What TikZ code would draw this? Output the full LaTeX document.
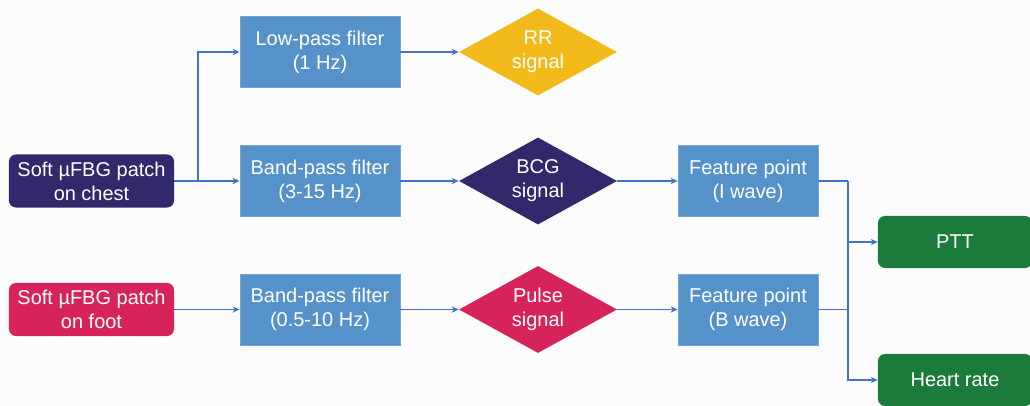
\documentclass[tikz,border=0pt]{standalone}
\usepackage{fontspec}
\setmainfont{Liberation Sans}
\usepackage{tikz}
\usepackage{xcolor}
\usetikzlibrary{positioning, arrows.meta, shapes.geometric}

\definecolor{patchpurple}{RGB}{50,40,108}
\definecolor{patchpink}{RGB}{214,36,90}
\definecolor{filterblue}{RGB}{85,146,202}
\definecolor{filteredge}{RGB}{120,166,212}
\definecolor{rryellow}{RGB}{242,186,26}
\definecolor{outgreen}{RGB}{27,123,58}
\definecolor{linkblue}{RGB}{68,114,196}
\definecolor{bgpaper}{RGB}{252,252,252}

\tikzset{
    txt/.style={text=white, align=center, font=\fontsize{14.2pt}{17pt}\selectfont, inner sep=0pt},
    patch/.style={txt, rectangle, rounded corners=5pt, minimum width=4.125cm, minimum height=1.325cm},
    filterbox/.style={txt, rectangle, fill=filterblue, draw=filteredge, line width=0.6pt, minimum width=4cm, minimum height=1.775cm},
    signal/.style={txt, diamond, aspect=1.8, minimum width=3.95cm, minimum height=2.175cm},
    result/.style={txt, rectangle, rounded corners=5pt, fill=outgreen, minimum width=3.85cm, minimum height=1.3cm},
    link/.style={draw=linkblue, line width=0.9pt},
    arr/.style={link, -{Stealth[length=5pt, width=4.5pt]}}
}

\begin{document}
\begin{tikzpicture}[x=0.025cm, y=-0.025cm]
    \fill[bgpaper] (0,0) rectangle (1030,406);
    \useasboundingbox (0,0) rectangle (1030,406);

    \node[patch, fill=patchpurple] (chest) at (91.5, 181) {Soft µFBG patch\\on chest};
    \node[patch, fill=patchpink] (foot) at (91.5, 309.5) {Soft µFBG patch\\on foot};

    \node[filterbox] (lp) at (320, 52) {Low-pass filter\\(1 Hz)};
    \node[filterbox] (bpc) at (320, 181) {Band-pass filter\\(3-15 Hz)};
    \node[filterbox] (bpf) at (320, 309.5) {Band-pass filter\\(0.5-10 Hz)};

    \node[signal, fill=rryellow] (rr) at (538, 52) {RR\\signal};
    \node[signal, fill=patchpurple] (bcg) at (538, 181) {BCG\\signal};
    \node[signal, fill=patchpink] (pulse) at (538, 309.5) {Pulse\\signal};

    \node[filterbox, minimum width=3.5cm] (fpi) at (748, 181) {Feature point\\(I wave)};
    \node[filterbox, minimum width=3.5cm] (fpb) at (748, 309.5) {Feature point\\(B wave)};

    \node[result] (ptt) at (955, 242) {PTT};
    \node[result] (hr) at (955, 380) {Heart rate};

    \coordinate (split) at (198, 181);
    \coordinate (merge) at (848, 181);

    % chest branch
    \draw[arr] (chest.east) -- (bpc.west);
    \draw[arr] (split) |- (lp.west);
    \draw[arr] (lp.east) -- (rr.west);
    \draw[arr] (bpc.east) -- (bcg.west);
    \draw[arr] (bcg.east) -- (fpi.west);

    % foot branch
    \draw[arr] (foot.east) -- (bpf.west);
    \draw[arr] (bpf.east) -- (pulse.west);
    \draw[arr] (pulse.east) -- (fpb.west);

    % outputs
    \draw[link] (fpi.east) -- (merge);
    \draw[arr] (merge) |- (hr.west);
    \draw[arr] (merge |- ptt.west) -- (ptt.west);
    \draw[link] (fpb.east) -- (merge |- fpb.east);
\end{tikzpicture}
\end{document}
